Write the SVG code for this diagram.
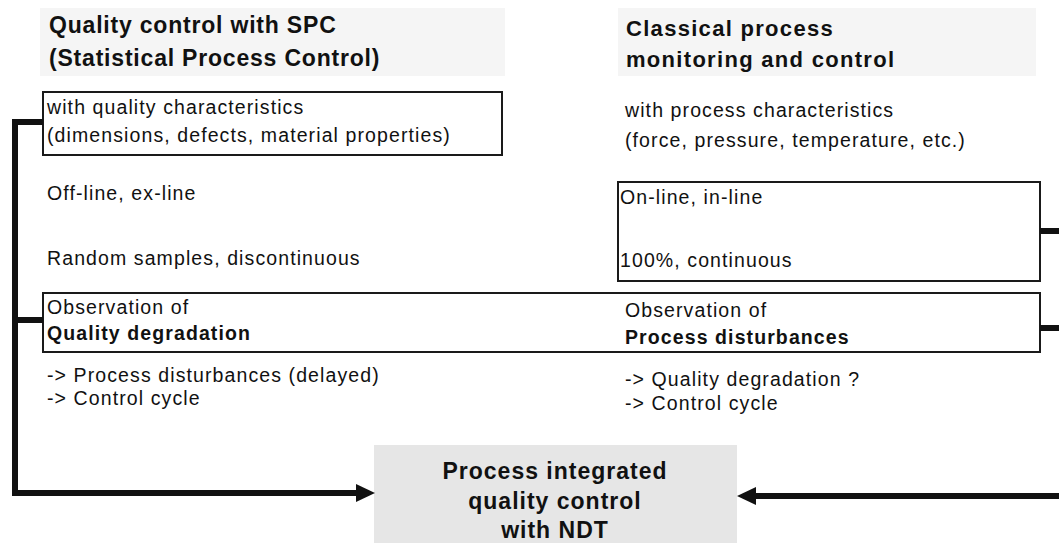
<svg xmlns="http://www.w3.org/2000/svg" width="1059" height="545" viewBox="0 0 1059 545">
<style>
.bg{fill:#ffffff}
.band{fill:#f5f5f5}
.box{fill:none;stroke:#1a1a1a;stroke-width:2}
.ndt{fill:#e6e6e6}
.t{font-family:"Liberation Sans",Arial,sans-serif;font-size:19.5px;letter-spacing:1.1px;fill:#111}
.b{font-weight:bold}
.h{font-family:"Liberation Sans",Arial,sans-serif;font-weight:bold;font-size:23px;letter-spacing:0.8px;fill:#111}
.h2{font-family:"Liberation Sans",Arial,sans-serif;font-weight:bold;font-size:22px;letter-spacing:1.3px;fill:#111}
.h3{font-family:"Liberation Sans",Arial,sans-serif;font-weight:bold;font-size:23px;letter-spacing:1px;fill:#111}
.c{fill:none;stroke:#111;stroke-width:6}
.ah{fill:#111}
</style>
<rect class="bg" x="0" y="0" width="1059" height="545"/>
<rect class="band" x="40" y="8" width="465" height="68"/>
<rect class="band" x="618" y="8" width="418" height="68"/>

<g id="title-left">
<text class="h" x="49" y="33">Quality control with SPC</text>
<text class="h" x="49" y="66">(Statistical Process Control)</text>
</g>
<g id="title-right">
<text class="h2" x="626" y="36">Classical process</text>
<text class="h2" x="626" y="67">monitoring and control</text>
</g>

<g id="quality-characteristics">
<rect class="box" x="43" y="92" width="459" height="63"/>
<text class="t" x="47" y="114">with quality characteristics</text>
<text class="t" x="47" y="142">(dimensions, defects, material properties)</text>
</g>
<g id="process-characteristics">
<text class="t" x="625" y="117">with process characteristics</text>
<text class="t" x="625" y="147">(force, pressure, temperature, etc.)</text>
</g>

<g id="offline">
<text class="t" x="47" y="200">Off-line, ex-line</text>
<text class="t" x="47" y="265">Random samples, discontinuous</text>
</g>
<g id="online">
<rect class="box" x="618" y="182" width="422" height="99"/>
<text class="t" x="620" y="204">On-line, in-line</text>
<text class="t" x="620" y="267">100%, continuous</text>
</g>

<g id="observation">
<rect class="box" x="43" y="293" width="997" height="59"/>
<text class="t" x="47" y="314">Observation of</text>
<text class="t b" x="47" y="340">Quality degradation</text>
<text class="t" x="625" y="317">Observation of</text>
<text class="t b" x="625" y="344">Process disturbances</text>
</g>

<g id="consequences-left">
<text class="t" x="47" y="382">-&gt; Process disturbances (delayed)</text>
<text class="t" x="47" y="405">-&gt; Control cycle</text>
</g>
<g id="consequences-right">
<text class="t" x="625" y="386">-&gt; Quality degradation ?</text>
<text class="t" x="625" y="410">-&gt; Control cycle</text>
</g>

<g id="ndt">
<rect class="ndt" x="374" y="445" width="363" height="98"/>
<text class="h3" x="555" y="479" text-anchor="middle">Process integrated</text>
<text class="h3" x="555" y="509" text-anchor="middle">quality control</text>
<text class="h3" x="555" y="538" text-anchor="middle">with NDT</text>
</g>

<g id="connectors">
<path class="c" d="M43 122 H15 V493 H360"/>
<path class="c" d="M15 320 H43"/>
<polygon class="ah" points="375,493 356,484 356,502"/>
<path class="c" d="M1040 231 H1059"/>
<path class="c" d="M1040 328 H1059"/>
<path class="c" d="M1059 496 H754"/>
<polygon class="ah" points="737,496 756,487 756,505"/>
</g>
</svg>
